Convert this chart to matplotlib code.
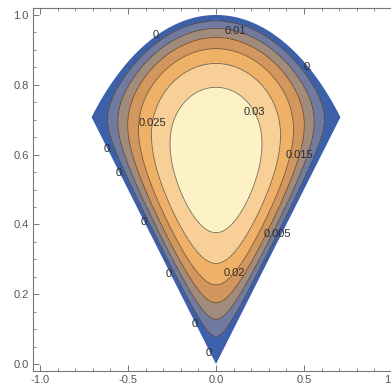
import numpy as np
import matplotlib
matplotlib.use('Agg')
import matplotlib.pyplot as plt
from matplotlib.patches import Polygon
from matplotlib.ticker import MultipleLocator, FormatStrFormatter

plt.rcParams['axes.unicode_minus'] = False
plt.rcParams['font.family'] = ['Liberation Sans', 'DejaVu Sans']

# ---- data ----
contour_levels = [0.0, 0.005, 0.01, 0.015, 0.02, 0.025, 0.03]
level_labels = ['0.', '0.005', '0.01', '0.015', '0.02', '0.025', '0.03']
band_colors = ['#3d60ab', '#717a9f', '#a08b7d', '#d2975f', '#efb068', '#f8d097', '#fdf2c5']
sector_radius = 1.0
sector_half_angle_deg = 45.0
saturation = 7.0  # nonlinear reaction strength

label_spots = {
    0.0: [(-0.335, 0.948), (0.511, 0.842), (-0.631, 0.607), (-0.557, 0.542),
          (-0.42, 0.398), (-0.267, 0.255), (-0.131, 0.106), (-0.045, 0.026)],
    0.005: [(0.335, 0.378)],
    0.01: [(0.108, 0.955)],
    0.015: [(0.449, 0.605)],
    0.02: [(0.092, 0.269)],
    0.025: [(-0.304, 0.682)],
    0.03: [(0.23, 0.728)],
}

# ---- field: Poisson problem on the circular sector ----
h = 0.004
xs = np.arange(-0.76, 0.76 + h / 2, h)
ys = np.arange(-0.03, 1.03 + h / 2, h)
X, Y = np.meshgrid(xs, ys)
ang = np.deg2rad(90 - sector_half_angle_deg)
inside = ((X ** 2 + Y ** 2) < sector_radius ** 2) & (Y > np.abs(X) * np.tan(ang))
m = inside.astype(float)


def lap(p):
    q = 4 * p.copy()
    q[1:, :] -= p[:-1, :]
    q[:-1, :] -= p[1:, :]
    q[:, 1:] -= p[:, :-1]
    q[:, :-1] -= p[:, 1:]
    return q * m / h ** 2


b = m.copy()
T = np.zeros_like(b)
r = b.copy()
p = r.copy()
rs = (r * r).sum()
for _ in range(4000):
    Ap = lap(p)
    a = rs / (p * Ap).sum()
    T += a * p
    r -= a * Ap
    rn = (r * r).sum()
    if np.sqrt(rn) < 1e-10:
        break
    p = r + rn / rs * p
    rs = rn

U = T * (1 - saturation * T)
F = np.where(inside, U, -0.002)

# ---- figure ----
fig = plt.figure(figsize=(3.91, 3.90), dpi=100)
ax = fig.add_axes([33 / 391, 19 / 390, 366 / 391, 363 / 390])

th = np.linspace(np.pi / 2 - np.deg2rad(sector_half_angle_deg),
                 np.pi / 2 + np.deg2rad(sector_half_angle_deg), 200)
verts = np.vstack([[0, 0], np.column_stack([sector_radius * np.cos(th), sector_radius * np.sin(th)]), [0, 0]])
clip = Polygon(verts, closed=True, transform=ax.transData, facecolor='none', edgecolor='none')
ax.add_patch(clip)

fill_levels = [-1.0] + contour_levels[1:] + [1.0]
cf = ax.contourf(X, Y, F, levels=fill_levels, colors=band_colors)
cf.set_clip_path(clip)

cl = ax.contour(X, Y, F, levels=contour_levels[1:], colors='#3a3024', linewidths=0.6, alpha=0.7)
cl.set_clip_path(clip)

fmt = {lv: lab for lv, lab in zip(contour_levels, level_labels)}
for lv, spots in label_spots.items():
    cz = ax.contour(X, Y, F, levels=[lv], colors='none', linewidths=0)
    ax.clabel(cz, manual=spots, inline=False, fmt=fmt, fontsize=8, colors='#2b2b2b')
    for t in cz.labelTexts:
        t.set_rotation(0)

ax.set_xlim(-1.04, 1.04)
ax.set_ylim(-0.02, 1.02)
ax.xaxis.set_major_locator(MultipleLocator(0.5))
ax.xaxis.set_minor_locator(MultipleLocator(0.1))
ax.yaxis.set_major_locator(MultipleLocator(0.2))
ax.yaxis.set_minor_locator(MultipleLocator(0.05))
ax.xaxis.set_major_formatter(FormatStrFormatter('%.1f'))
ax.yaxis.set_major_formatter(FormatStrFormatter('%.1f'))
ax.tick_params(which='both', direction='in', top=True, right=True, color='#777777',
               labelcolor='#555555', labelsize=8)
ax.tick_params(which='major', length=4, width=0.7, pad=3)
ax.tick_params(which='minor', length=2.2, width=0.6)
for s in ax.spines.values():
    s.set_color('#777777')
    s.set_linewidth(0.8)

fig.savefig('out.png')
